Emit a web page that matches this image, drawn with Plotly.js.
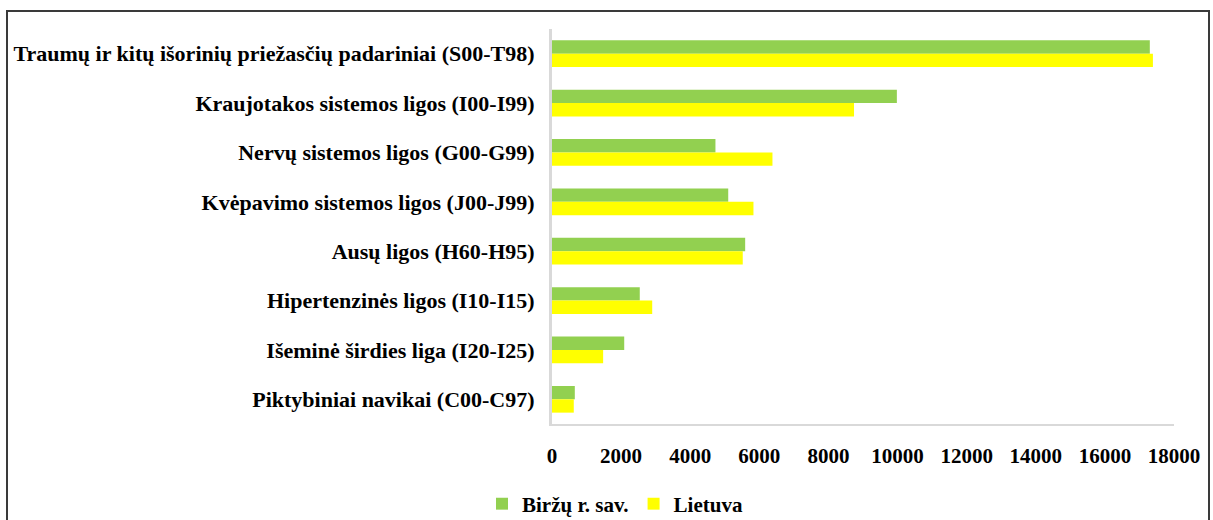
<!DOCTYPE html>
<html>
<head>
<meta charset="utf-8">
<script src="https://cdn.plot.ly/plotly-3.0.1.min.js"></script>
<style>
html,body{margin:0;padding:0;background:#fff;}
#chart{width:1213px;height:520px;}
</style>
</head>
<body>
<div id="chart"></div>
<script>
const categories = [
  "Traumų ir kitų išorinių priežasčių padariniai (S00-T98)",
  "Kraujotakos sistemos ligos (I00-I99)",
  "Nervų sistemos ligos (G00-G99)",
  "Kvėpavimo sistemos ligos (J00-J99)",
  "Ausų ligos (H60-H95)",
  "Hipertenzinės ligos (I10-I15)",
  "Išeminė širdies liga (I20-I25)",
  "Piktybiniai navikai (C00-C97)"
];
const birzai = [17300, 9980, 4730, 5100, 5590, 2540, 2090, 660];
const lietuva = [17390, 8740, 6380, 5830, 5520, 2900, 1480, 630];
const seriesNames = ["Biržų r. sav.", "Lietuva"];
const xTicks = [0, 2000, 4000, 6000, 8000, 10000, 12000, 14000, 16000, 18000];

const FAM = "Liberation Serif, Times New Roman, serif";

const traces = [
  {type: "bar", orientation: "h", name: seriesNames[0], y: categories, x: birzai,
   marker: {color: "#92d050"}, hoverinfo: "x+y"},
  {type: "bar", orientation: "h", name: seriesNames[1], y: categories, x: lietuva,
   marker: {color: "#ffff00"}, hoverinfo: "x+y"}
];

const L = 552, R = 39, T = 29, B = 96;
const W = 1213 - L - R, H = 520 - T - B;
const px = v => (v - L) / W;
const py = v => (520 - B - v) / H;

const layout = {
  width: 1213, height: 520,
  margin: {l: L, r: R, t: T, b: B, pad: 0, autoexpand: false},
  paper_bgcolor: "#fff", plot_bgcolor: "#fff",
  barmode: "group", bargap: 0.46, bargroupgap: 0,
  font: {family: FAM, size: 20, color: "#000", weight: "bold"},
  xaxis: {
    range: [0, 18000], tickvals: xTicks, ticktext: xTicks.map(String),
    showgrid: false, zeroline: false, showline: true, linecolor: "#d9d9d9", linewidth: 2,
    ticks: "", ticklabelstandoff: 12, automargin: false,
    tickfont: {family: FAM, size: 21, color: "#000", weight: "bold"}
  },
  yaxis: {
    type: "category", autorange: "reversed", automargin: false,
    showgrid: false, zeroline: false, showline: true, linecolor: "#d9d9d9", linewidth: 3,
    ticks: "", ticklabelstandoff: 10,
    tickfont: {family: FAM, size: 22, color: "#000", weight: "bold"}
  },
  showlegend: true,
  legend: {
    orientation: "h", x: px(615), y: py(504), xanchor: "center", yanchor: "middle",
    font: {family: FAM, size: 21, color: "#000", weight: "bold"},
    itemwidth: 30, traceorder: "normal"
  },
  shapes: [
    {type: "rect", xref: "paper", yref: "paper",
     x0: px(7), x1: px(1209), y0: py(545), y1: py(11),
     line: {color: "#3a3a3a", width: 2}, fillcolor: "rgba(0,0,0,0)", layer: "above"}
  ]
};

Plotly.newPlot("chart", traces, layout, {displayModeBar: false, staticPlot: true});
</script>
</body>
</html>
